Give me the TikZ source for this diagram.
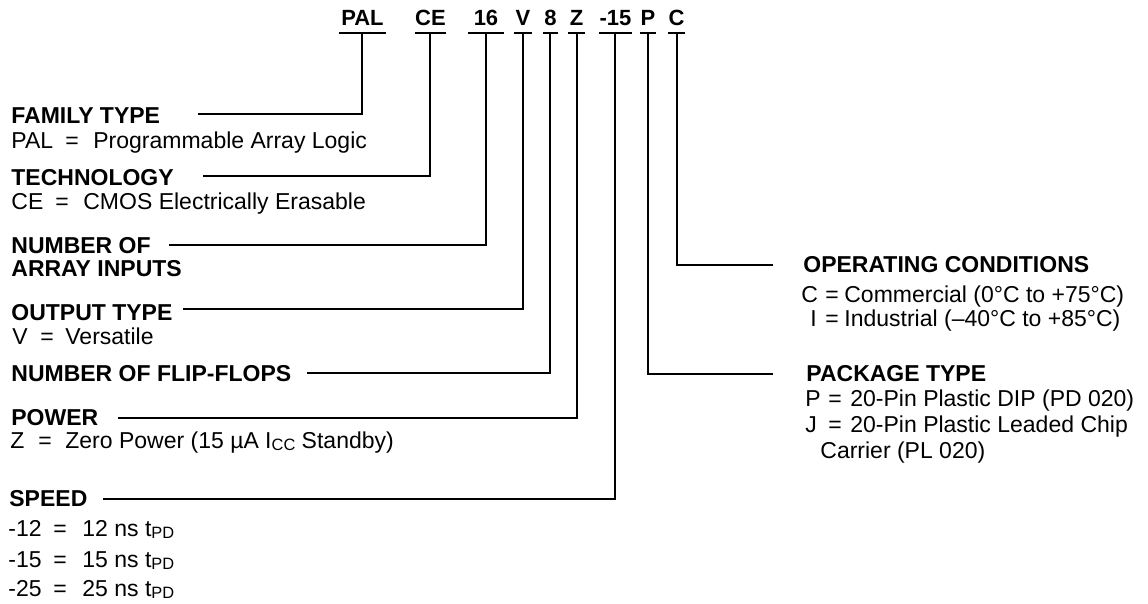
\documentclass[tikz,border=0pt]{standalone}
\usepackage{fontspec}
\setmainfont{Liberation Sans}
\usepackage{graphicx}
\newcommand{\kv}[4]{\makebox[#1][l]{#2}\makebox[#3][l]{=}#4}
\newcommand{\sm}[1]{\raisebox{-0.6pt}{\fontsize{8.2}{9}\selectfont #1}}
\begin{document}
\begin{tikzpicture}[x=0.5pt,y=-0.5pt,
  lbl/.style={anchor=base west, inner sep=0pt, font=\fontsize{11.5}{13}\selectfont},
  ttl/.style={anchor=base west, inner sep=0pt, font=\fontsize{11.5}{13}\selectfont\bfseries},
  hdr/.style={anchor=base, inner sep=0pt, font=\fontsize{11}{13}\selectfont\bfseries},
  wire/.style={line width=1pt},
  uline/.style={line width=1.1pt}]
\useasboundingbox (0,0) rectangle (1148,604);

% header codes
\node[hdr] (hPAL) at (362.5,26) {PAL};
\node[hdr] (hCE)  at (430.5,26) {CE};
\node[hdr] (h16)  at (486,26)   {16};
\node[hdr] (hV)   at (523,26)   {V};
\node[hdr] (h8)   at (550.5,26) {8};
\node[hdr] (hZ)   at (576.5,26) {Z};
\node[hdr] (h15)  at (615.5,26) {-15};
\node[hdr] (hP)   at (648,26)   {P};
\node[hdr] (hC)   at (676.5,26) {C};

% underlines
\draw[uline] (339,33) -- (386,33);
\draw[uline] (415,33) -- (446,33);
\draw[uline] (468,33) -- (504,33);
\draw[uline] (514,33) -- (532,33);
\draw[uline] (543,33) -- (558,33);
\draw[uline] (568,33) -- (585,33);
\draw[uline] (599,33) -- (632,33);
\draw[uline] (640,33) -- (656,33);
\draw[uline] (668,33) -- (685,33);

% vertical start points
\coordinate (vPAL) at (362,33);
\coordinate (vCE)  at (430,33);
\coordinate (v16)  at (486,33);
\coordinate (vV)   at (523,33);
\coordinate (v8)   at (550,33);
\coordinate (vZ)   at (577,33);
\coordinate (v15)  at (615,33);
\coordinate (vP)   at (648,33);
\coordinate (vC)   at (677,33);

% left labels
\node[ttl] (tFam) at (11,124) {FAMILY TYPE};
\node[lbl] (dFam) at (11,149) {\kv{27pt}{PAL}{14pt}{Programmable Array Logic}};
\node[ttl] (tTech) at (11,186) {TECHNOLOGY};
\node[lbl] (dTech) at (11,210) {\kv{22pt}{CE}{14pt}{CMOS Electrically Erasable}};
\node[ttl] (tNum) at (11,254) {NUMBER OF};
\node[ttl] (tNum2) at (11,277) {ARRAY INPUTS};
\node[ttl] (tOut) at (11,321) {OUTPUT TYPE};
\node[lbl] (dOut) at (12,345) {\kv{14pt}{V}{12.5pt}{Versatile}};
\node[ttl] (tFF) at (11,382) {NUMBER OF FLIP-FLOPS};
\node[ttl] (tPow) at (11,426) {POWER};
\node[lbl] (dPow) at (10,449) {\kv{14pt}{Z}{13.5pt}{Zero Power (15 µA I\sm{CC} Standby)}};
\node[ttl] (tSpd) at (9,507) {SPEED};
\node[lbl] (dS1) at (8,537) {\kv{22.5pt}{-12}{14.5pt}{12 ns t\sm{PD}}};
\node[lbl] (dS2) at (8,568) {\kv{22.5pt}{-15}{14.5pt}{15 ns t\sm{PD}}};
\node[lbl] (dS3) at (8,597) {\kv{22.5pt}{-25}{14.5pt}{25 ns t\sm{PD}}};

% right labels
\node[ttl] (tOpc) at (803,273) {OPERATING CONDITIONS};
\node[lbl] (dC) at (801,303) {\kv{12pt}{C}{9.5pt}{Commercial (0°C to +75°C)}};
\node[lbl] (dI) at (801,327) {\kv{12pt}{\hspace{4.5pt}I}{9.5pt}{Industrial (–40°C to +85°C)}};
\node[ttl] (tPkg) at (806,382) {PACKAGE TYPE};
\node[lbl] (dP) at (805,407) {\kv{11.5pt}{P}{11pt}{20-Pin Plastic DIP (PD 020)}};
\node[lbl] (dJ) at (805,433) {\kv{11.5pt}{J}{11pt}{20-Pin Plastic Leaded Chip}};
\node[lbl] (dJ2) at (820,459) {Carrier (PL 020)};

% connector ends
\coordinate (eFam)  at (198,114);
\coordinate (eTech) at (203,176);
\coordinate (eNum)  at (169,245);
\coordinate (eOut)  at (183,309);
\coordinate (eFF)   at (307,373);
\coordinate (ePow)  at (118,418);
\coordinate (eSpd)  at (103,499);
\coordinate (eOpc)  at (773,265);
\coordinate (ePkg)  at (773,374);

% connectors
\draw[wire] (eFam)  -| (vPAL);
\draw[wire] (eTech) -| (vCE);
\draw[wire] (eNum)  -| (v16);
\draw[wire] (eOut)  -| (vV);
\draw[wire] (eFF)   -| (v8);
\draw[wire] (ePow)  -| (vZ);
\draw[wire] (eSpd)  -| (v15);
\draw[wire] (vC) |- (eOpc);
\draw[wire] (vP) |- (ePkg);
\end{tikzpicture}
\end{document}
